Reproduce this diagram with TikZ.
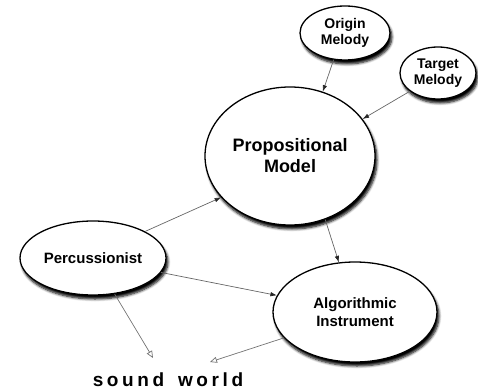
\documentclass[tikz,border=0pt]{standalone}
\usepackage{fontspec}
\setmainfont{Liberation Sans}
\usetikzlibrary{shapes.geometric,arrows.meta,shadows.blur}

\begin{document}
\begin{tikzpicture}[x=1pt,y=-1pt,
  bubble/.style={ellipse, draw=black, line width=1.3pt, fill=white,
    inner sep=0pt, align=center,
    blur shadow={shadow xshift=2pt, shadow yshift=-4pt,
      shadow blur radius=2.5pt, shadow blur steps=6, shadow opacity=100}},
  link/.style={draw=black!60, line width=0.7pt,
    -{Latex[length=6.5pt,width=4.5pt,fill=black!85,color=black!85]}},
  outlink/.style={draw=black!55, line width=0.7pt,
    -{Triangle[open,length=7pt,width=6pt]}}]
\useasboundingbox (0,0) rectangle (478,390);

% concepts
\node[bubble, minimum width=90pt, minimum height=54pt,
  font=\bfseries\fontsize{14}{16}\selectfont] (om) at (345,33) {Origin\\Melody};
\node[bubble, minimum width=76pt, minimum height=52pt,
  font=\bfseries\fontsize{14}{16.5}\selectfont] (tm) at (438,73) {Target\\Melody};
\node[bubble, minimum width=170pt, minimum height=138pt,
  font=\bfseries\fontsize{18}{21}\selectfont] (pm) at (290,156) {Propositional\\Model};
\node[bubble, minimum width=146pt, minimum height=74pt,
  font=\bfseries\fontsize{15}{18}\selectfont] (pc) at (93,258) {Percussionist};
\node[bubble, minimum width=164pt, minimum height=100pt,
  font=\bfseries\fontsize{15}{18}\selectfont] (ai) at (355,312) {Algorithmic\\Instrument};

% output
\node[anchor=base, inner sep=0pt,
  font=\bfseries\fontsize{19}{22}\selectfont\addfontfeature{LetterSpace=19}]
  (sw) at (168,386) {sound\hspace{5pt} world};
\coordinate (swl) at (153,358);
\coordinate (swr) at (210,362);

% relations
\draw[link] (om.247) -- (pm.63);
\draw[link] (tm.213) -- (pm.27);
\draw[link] (pc.27) -- (pm.211);
\draw[link] (pm.299) -- (ai.108);
\draw[link] (pc.348) -- (ai.168);
\draw[outlink] (pc.301) -- (swl);
\draw[outlink] (ai.200) -- (swr);
\end{tikzpicture}
\end{document}
